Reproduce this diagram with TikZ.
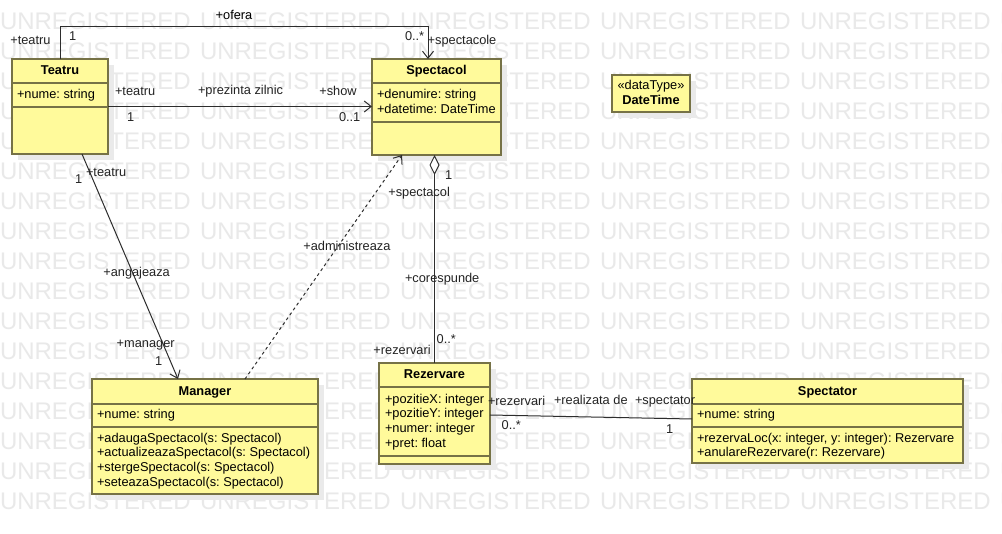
\documentclass[tikz,border=0pt]{standalone}
\usepackage{fontspec}
\setmainfont{Liberation Sans}
\usetikzlibrary{arrows.meta,shadows}
\frenchspacing

\definecolor{classfill}{RGB}{255,250,155}
\definecolor{classline}{RGB}{118,114,70}
\definecolor{wmark}{RGB}{233,233,233}
\definecolor{shadowgray}{RGB}{234,234,234}
\definecolor{linkcol}{RGB}{45,45,45}
\definecolor{labelcol}{RGB}{35,35,35}

\begin{document}
\begin{tikzpicture}[x=1pt,y=-1pt,
  every node/.style={inner sep=0pt,outer sep=0pt},
  classbox/.style={rectangle,draw=classline,fill=classfill,line width=2pt,
    drop shadow={shadow xshift=6pt,shadow yshift=-6pt,fill=shadowgray,opacity=1}},
  sepline/.style={draw=classline,line width=2pt},
  txt/.style={font=\fontsize{12.8}{15}\selectfont,text height=10pt,text depth=2pt},
  title/.style={txt,font=\fontsize{12.8}{15}\selectfont\bfseries},
  member/.style={txt,anchor=west},
  lbl/.style={txt,text=labelcol,anchor=west},
  wm/.style={anchor=base west,text=wmark,font=\fontsize{24}{24}\selectfont},
  link/.style={draw=linkcol,line width=1pt},
  nav/.style={link,-{Straight Barb[length=7pt,width=11pt]}},
  dep/.style={nav,dash pattern=on 3pt off 3pt},
  agg/.style={link,-{Diamond[length=20pt,width=10pt,fill=white]}}
]
\useasboundingbox (0,0) rectangle (1002,534);
\fill[white] (0,0) rectangle (1002,534);

% background watermark rows
\begin{scope}
  \clip (0,0) rectangle (1002,534);
  \foreach \r in {0,...,16}{
    \foreach \c in {0,...,5}{
      \node[wm] (wm-\r-\c) at (200*\c,30+30*\r) {UNREGISTERED};
    }
  }
\end{scope}

% ---------- classes ----------
\node[classbox,minimum width=96pt,minimum height=95pt] (teatru) at (60,106.5) {};
\draw[sepline] (teatru.west |- 0,83) -- (teatru.east |- 0,83);
\draw[sepline] (teatru.west |- 0,107) -- (teatru.east |- 0,107);
\node[title] (teatru-t) at (60,71) {Teatru};
\node[member] (teatru-a1) at (17,95) {+nume: string};

\node[classbox,minimum width=129pt,minimum height=96pt] (spectacol) at (436.5,107) {};
\draw[sepline] (spectacol.west |- 0,83) -- (spectacol.east |- 0,83);
\draw[sepline] (spectacol.west |- 0,122) -- (spectacol.east |- 0,122);
\node[title] (spectacol-t) at (436.5,71) {Spectacol};
\node[member] (spectacol-a1) at (377,95) {+denumire: string};
\node[member] (spectacol-a2) at (377,109.5) {+datetime: DateTime};

\node[classbox,minimum width=78pt,minimum height=37pt] (datetime) at (651,93.5) {};
\node[txt] (datetime-s) at (651,86) {«dataType»};
\node[title] (datetime-t) at (651,100.7) {DateTime};

\node[classbox,minimum width=226pt,minimum height=115pt] (manager) at (205,436.5) {};
\draw[sepline] (manager.west |- 0,404) -- (manager.east |- 0,404);
\draw[sepline] (manager.west |- 0,427) -- (manager.east |- 0,427);
\node[title] (manager-t) at (205,391.7) {Manager};
\node[member] (manager-a1) at (97,415) {+nume: string};
\node[member] (manager-m1) at (97,438.3) {+adaugaSpectacol(s: Spectacol)};
\node[member] (manager-m2) at (97,453) {+actualizeazaSpectacol(s: Spectacol)};
\node[member] (manager-m3) at (97,467.7) {+stergeSpectacol(s: Spectacol)};
\node[member] (manager-m4) at (97,482.3) {+seteazaSpectacol(s: Spectacol)};

\node[classbox,minimum width=111pt,minimum height=101pt] (rezervare) at (434.5,413.5) {};
\draw[sepline] (rezervare.west |- 0,387) -- (rezervare.east |- 0,387);
\draw[sepline] (rezervare.west |- 0,456) -- (rezervare.east |- 0,456);
\node[title] (rezervare-t) at (434.5,375) {Rezervare};
\node[member] (rezervare-a1) at (385,399.5) {+pozitieX: integer};
\node[member] (rezervare-a2) at (385,414) {+pozitieY: integer};
\node[member] (rezervare-a3) at (385,428.7) {+numer: integer};
\node[member] (rezervare-a4) at (385,443.3) {+pret: float};

\node[classbox,minimum width=271pt,minimum height=84pt] (spectator) at (827.5,421) {};
\draw[sepline] (spectator.west |- 0,404) -- (spectator.east |- 0,404);
\draw[sepline] (spectator.west |- 0,427) -- (spectator.east |- 0,427);
\node[title] (spectator-t) at (827.5,391.7) {Spectator};
\node[member] (spectator-a1) at (697,415) {+nume: string};
\node[member] (spectator-m1) at (697,438.3) {+rezervaLoc(x: integer, y: integer): Rezervare};
\node[member] (spectator-m2) at (697,452.5) {+anulareRezervare(r: Rezervare)};

% ---------- connectors ----------
% Teatru -> Spectacol : ofera
\draw[nav] (teatru.north) -- ++(0,-32) -| ([xshift=-8.5pt]spectacol.north);
\node[txt] (l-ofera) at (234,16) {+ofera};
\node[lbl] (l-ofera-src) at (10.3,40.7) {+teatru};
\node[lbl] (l-ofera-m1) at (69,37) {1};
\node[lbl] (l-ofera-m2) at (405,37) {0..*};
\node[lbl] (l-ofera-dst) at (427.7,40.7) {+spectacole};

% Teatru -> Spectacol : prezinta zilnic
\draw[nav] (teatru.east) -- (spectacol.west |- teatru.east);
\node[lbl] (l-prez-src) at (115,91.7) {+teatru};
\node[lbl] (l-prez) at (198,91) {+prezinta zilnic};
\node[lbl] (l-prez-dst) at (319.3,91.7) {+show};
\node[lbl] (l-prez-m1) at (127,118) {1};
\node[lbl] (l-prez-m2) at (339,118) {0..1};

% Teatru -> Manager : angajeaza
\draw[nav] ([xshift=22pt]teatru.south) -- ([xshift=-27pt]manager.north);
\node[lbl] (l-ang-src) at (86,172.7) {+teatru};
\node[lbl] (l-ang-m1) at (75,179.3) {1};
\node[lbl] (l-ang) at (103.3,272.7) {+angajeaza};
\node[lbl] (l-ang-dst) at (116.7,343.3) {+manager};
\node[lbl] (l-ang-m2) at (155,361.7) {1};

% Manager -> Spectacol : administreaza
\draw[dep] ([xshift=40pt]manager.north) -- ([xshift=-34.5pt]spectacol.south);
\node[lbl] (l-adm) at (303.3,246.7) {+administreaza};

% Rezervare <>- Spectacol : corespunde
\draw[agg] (rezervare.north) -- (rezervare.north |- spectacol.south);
\node[lbl] (l-cor-m1) at (445,176) {1};
\node[lbl] (l-cor-dst) at (388.3,193) {+spectacol};
\node[lbl] (l-cor) at (405,279) {+corespunde};
\node[lbl] (l-cor-m2) at (436.7,340) {0..*};
\node[txt,text=labelcol,anchor=east] (l-cor-src) at (430.7,350.7) {+rezervari};

% Rezervare -- Spectator : realizata de
\draw[link] ([yshift=-1.5pt]rezervare.east) -- ([yshift=2pt]spectator.west);
\node[lbl] (l-rea-src) at (488,401.7) {+rezervari};
\node[lbl] (l-rea) at (554,401) {+realizata de};
\node[lbl] (l-rea-dst) at (635,401) {+spectator};
\node[lbl] (l-rea-m1) at (501.7,426) {0..*};
\node[lbl] (l-rea-m2) at (666,430) {1};
\end{tikzpicture}
\end{document}
